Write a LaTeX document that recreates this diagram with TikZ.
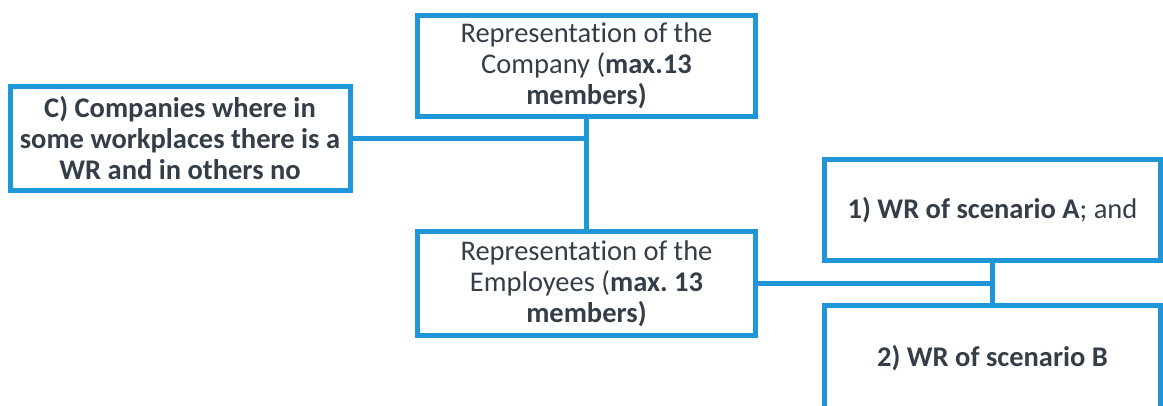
\documentclass[tikz,border=0pt]{standalone}
\usepackage{fontspec}
\setmainfont{Carlito}[Ligatures=NoCommon]
\frenchspacing
\definecolor{wrblue}{RGB}{31,150,216}
\definecolor{wrtext}{RGB}{52,62,72}
\begin{document}
\begin{tikzpicture}[x=1pt,y=-1pt,
  box/.style={draw=wrblue,line width=5pt,fill=white,inner sep=0pt,align=center,
    text=wrtext,font=\fontsize{28.5}{31}\selectfont},
  link/.style={draw=wrblue,line width=5pt}]
\useasboundingbox (0,0) rectangle (1163,405);
\begin{scope}
\clip (0,0) rectangle (1163,405);
\node[box,minimum width=338pt,minimum height=101pt] (top) at (586.5,66)
  {Representation of the\\Company (\textbf{max.13}\\\textbf{members)}};
\node[box,minimum width=340pt,minimum height=104pt] (c) at (180,138)
  {\textbf{C) Companies where in}\\\textbf{some workplaces there is a}\\\textbf{WR and in others no}};
\node[box,minimum width=338pt,minimum height=104pt] (emp) at (586.5,283.5)
  {Representation of the\\Employees (\textbf{max. 13}\\\textbf{members)}};
\node[box,minimum width=336pt,minimum height=101pt] (w1) at (992.5,210)
  {\textbf{1) WR of scenario A}; and};
\node[box,minimum width=336pt,minimum height=106pt] (w2) at (992.5,358.5)
  {\textbf{2) WR of scenario B}};
\draw[link] (top.south) -- (emp.north);
\draw[link] (c.east) -- (c.east -| top.south);
\draw[link] (emp.east) -- (emp.east -| w1.south);
\draw[link] (w1.south) -- (w2.north);
\end{scope}
\end{tikzpicture}
\end{document}
